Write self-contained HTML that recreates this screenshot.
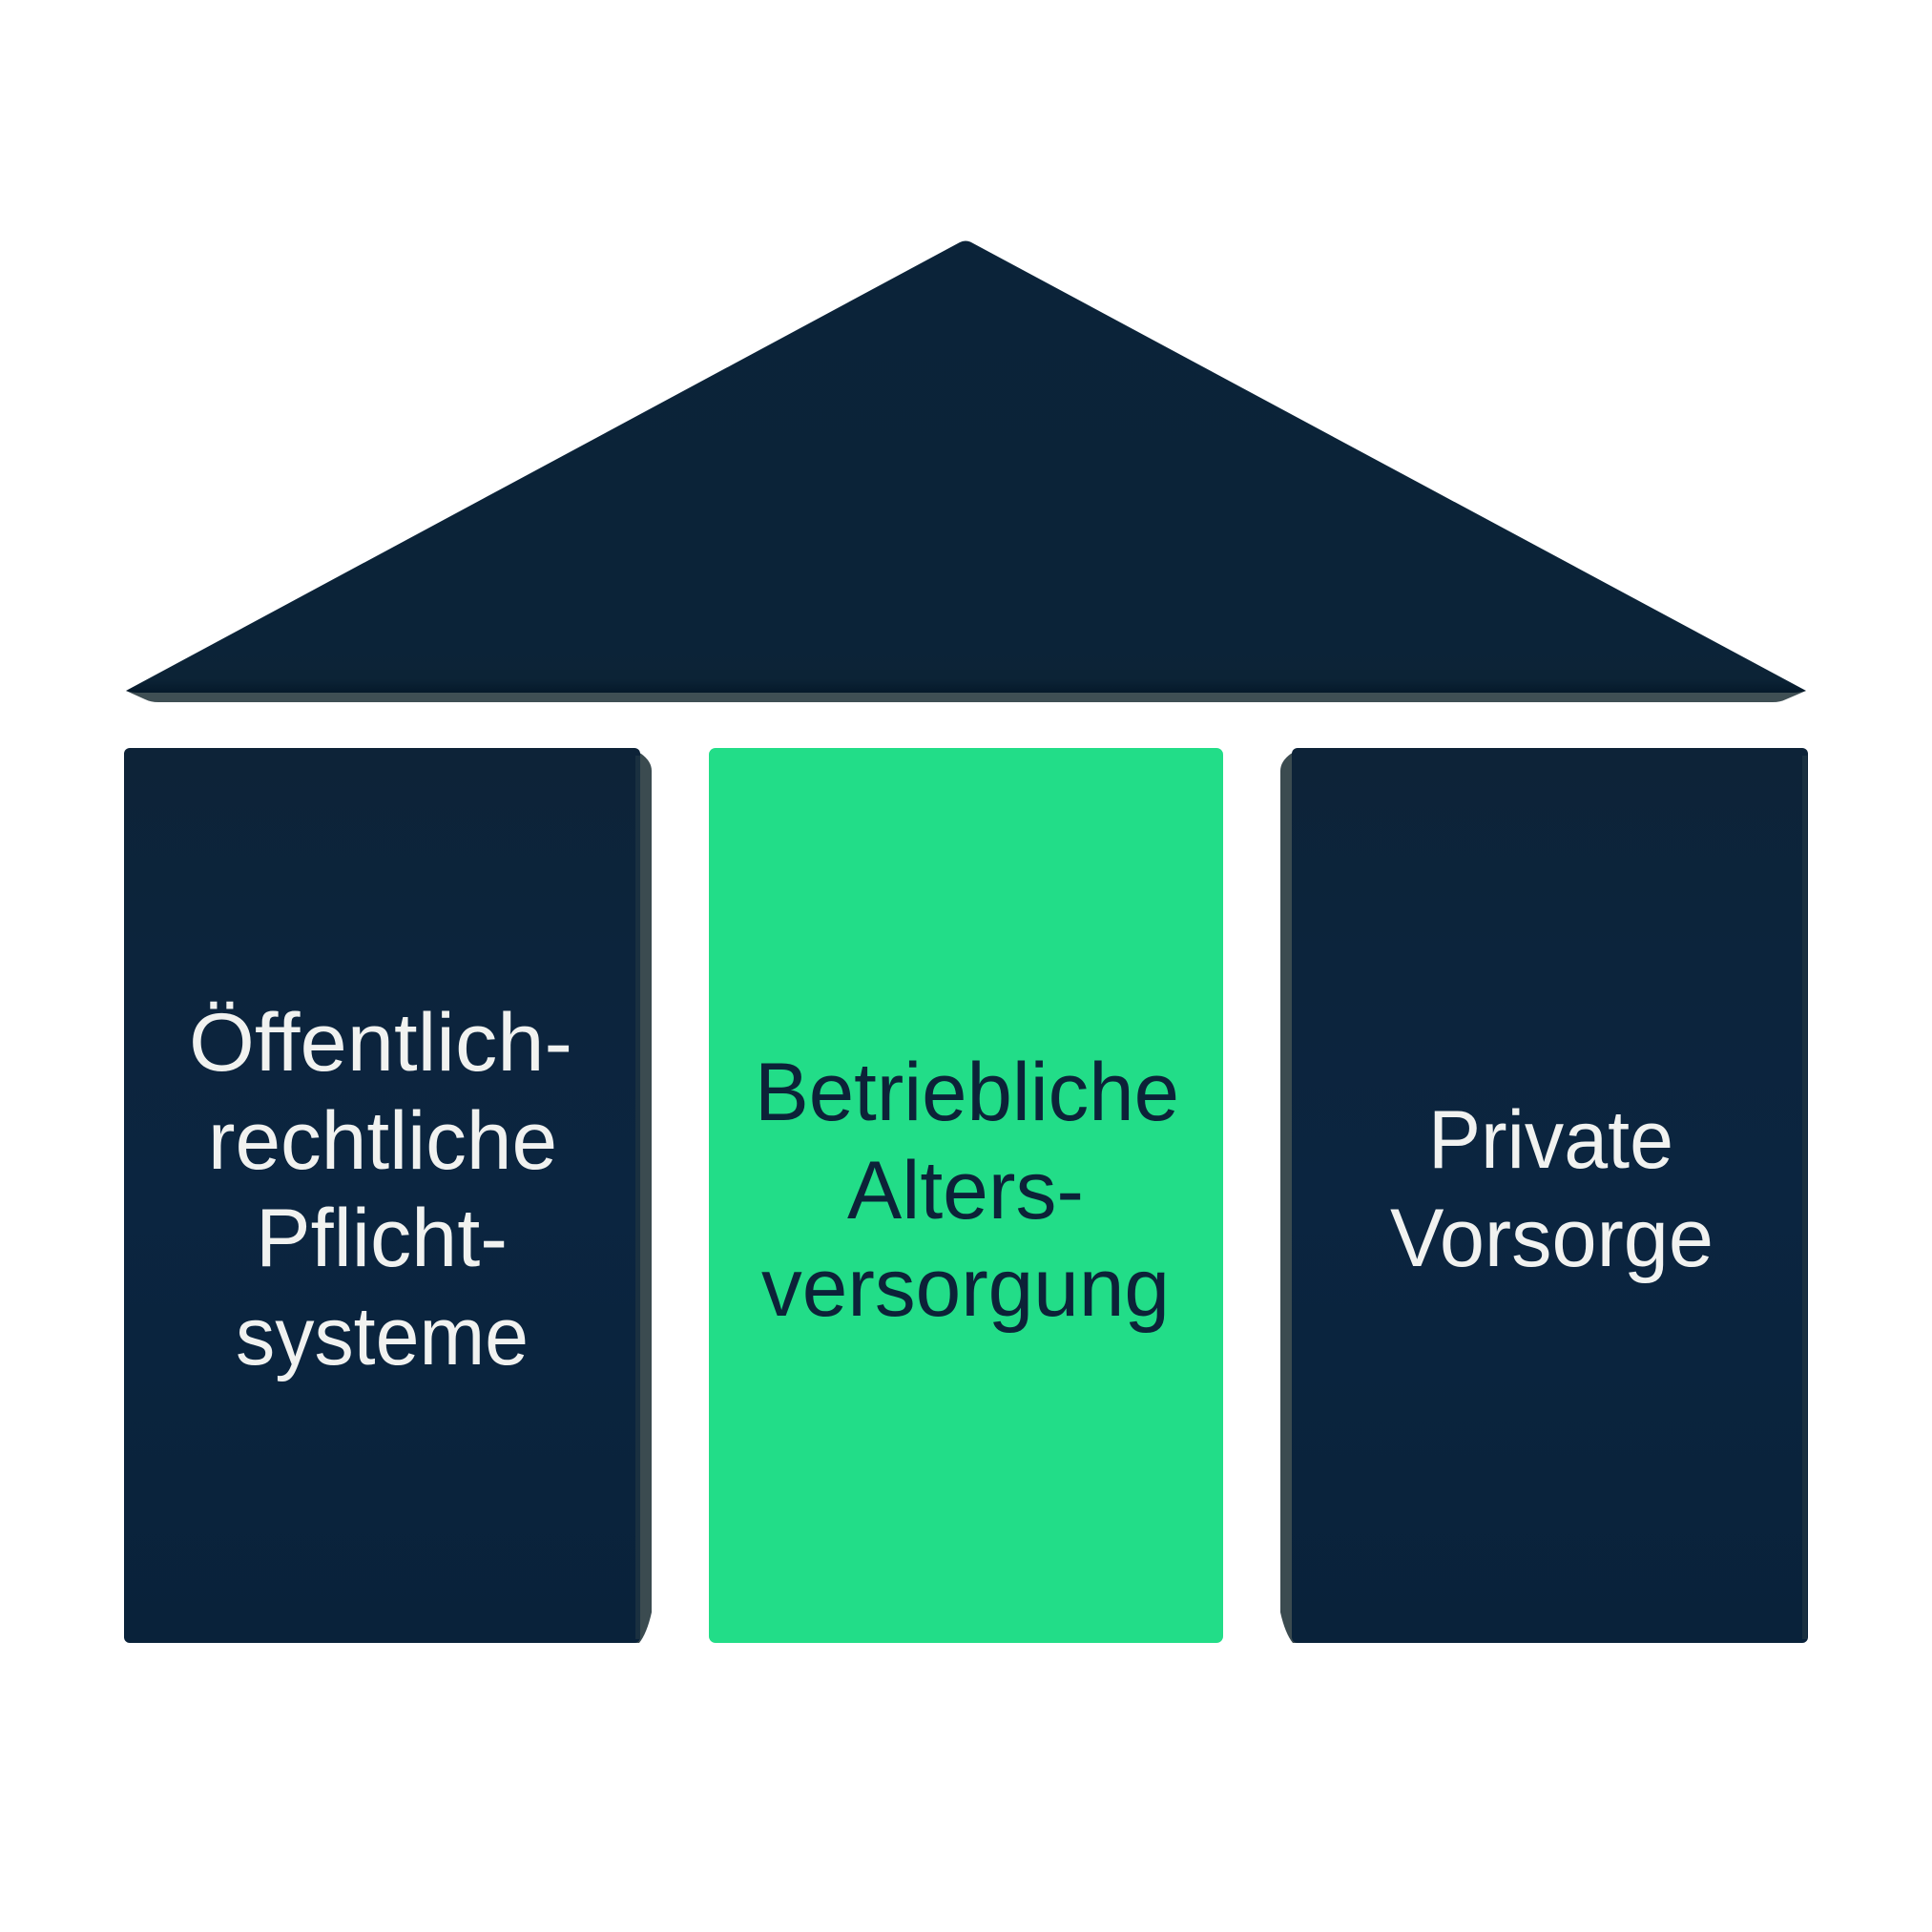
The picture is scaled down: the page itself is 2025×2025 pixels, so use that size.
<!DOCTYPE html>
<html lang="de">
<head>
<meta charset="utf-8">
<title>Drei-Säulen-Modell</title>
<style>
html,body{margin:0;padding:0;background:#fff;width:2025px;height:2025px;overflow:hidden}
svg{display:block}
text{font-family:"Liberation Sans",sans-serif;font-size:86px}
.w{fill:#f1f2f0}
.d{fill:#0c2238}
</style>
</head>
<body>
<svg xmlns="http://www.w3.org/2000/svg" width="2025" height="2025" viewBox="0 0 2025 2025">
<defs>
<linearGradient id="navy" x1="0" y1="0" x2="0" y2="1">
<stop offset="0" stop-color="#0d2338"/>
<stop offset="0.5" stop-color="#0b2540"/>
<stop offset="1" stop-color="#09223a"/>
</linearGradient>
<linearGradient id="roof" x1="0" y1="0" x2="0" y2="1">
<stop offset="0" stop-color="#0b2339"/>
<stop offset="0.9" stop-color="#0b2338"/>
<stop offset="0.97" stop-color="#0c2336"/>
<stop offset="1" stop-color="#05192a"/>
</linearGradient>
</defs>
<rect width="2025" height="2025" fill="#fff"/>

<!-- roof -->
<path d="M132 724 L152 733 Q158 736 166 736 L1858 736 Q1866 736 1872 733 L1893 724 Z" fill="#3f4f54"/>
<path d="M132 724 L1006 254 Q1012 251 1018 254 L1893 724 Q1886 726 1880 726 L145 726 Q138 726 132 724 Z" fill="url(#roof)"/>

<!-- left pillar -->
<path d="M660 784 L672 790 Q683 798 683 808 L683 1690 Q678 1712 670 1722 L660 1722 Z" fill="#3b4b50"/>
<rect x="130" y="784" width="541" height="938" rx="6" fill="url(#navy)"/>
<rect x="666" y="792" width="5" height="926" fill="#1a3040"/>

<!-- center pillar -->
<rect x="743" y="784" width="539" height="938" rx="7" fill="#22dd88"/>

<!-- right pillar -->
<path d="M1365 784 L1353 790 Q1342 798 1342 808 L1342 1690 Q1347 1712 1355 1722 L1365 1722 Z" fill="#3b4b50"/>
<rect x="1354" y="784" width="541" height="938" rx="6" fill="url(#navy)"/>
<rect x="1889" y="792" width="5" height="926" fill="#1a3040"/>

<!-- labels -->
<text class="w" x="198" y="1122" textLength="402" lengthAdjust="spacingAndGlyphs">Öffentlich-</text>
<text class="w" x="218" y="1225" textLength="366" lengthAdjust="spacingAndGlyphs">rechtliche</text>
<text class="w" x="268" y="1327" textLength="264" lengthAdjust="spacingAndGlyphs">Pflicht-</text>
<text class="w" x="247" y="1430" textLength="307" lengthAdjust="spacingAndGlyphs">systeme</text>

<text class="d" x="791" y="1174" textLength="445" lengthAdjust="spacingAndGlyphs">Betriebliche</text>
<text class="d" x="888" y="1277" textLength="248" lengthAdjust="spacingAndGlyphs">Alters-</text>
<text class="d" x="798" y="1379" textLength="428" lengthAdjust="spacingAndGlyphs">versorgung</text>

<text class="w" x="1497" y="1224" textLength="257" lengthAdjust="spacingAndGlyphs">Private</text>
<text class="w" x="1457" y="1327" textLength="339" lengthAdjust="spacingAndGlyphs">Vorsorge</text>
</svg>
</body>
</html>
